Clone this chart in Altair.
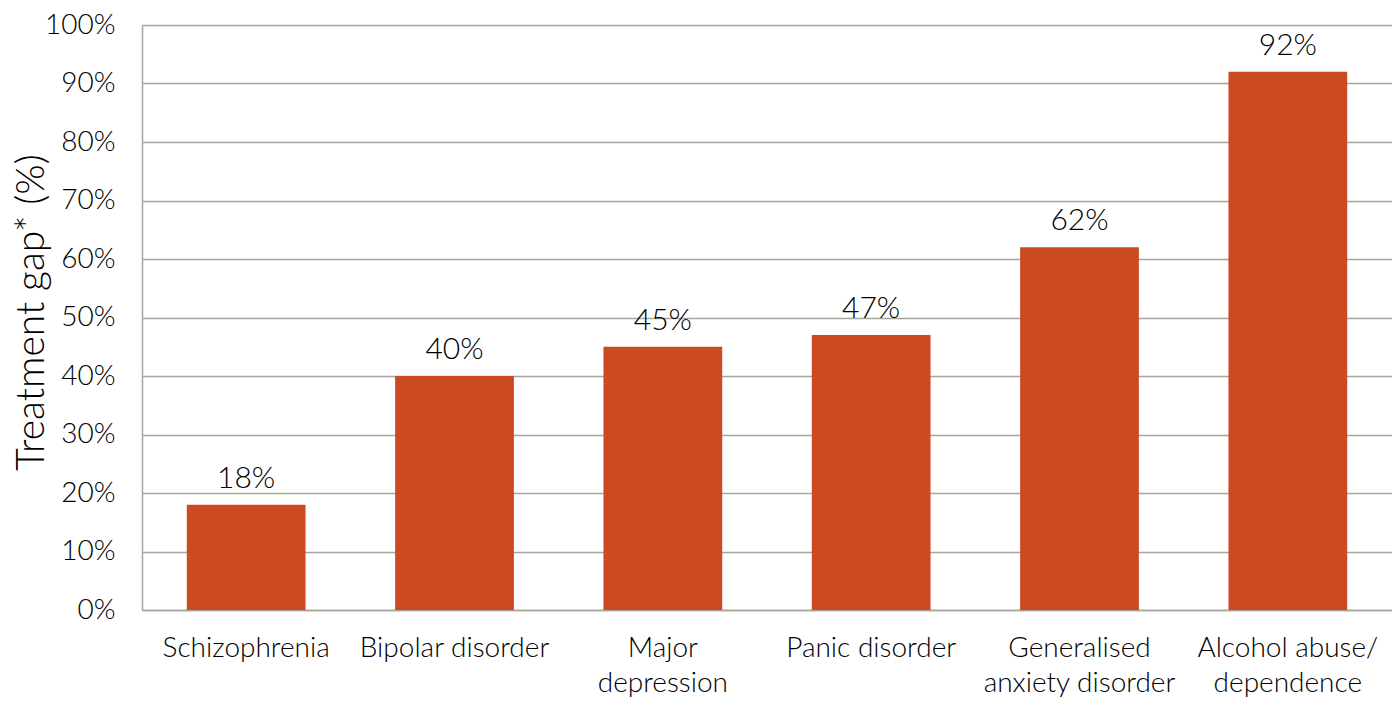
import altair as alt
import pandas as pd

categories = ["Schizophrenia", "Bipolar disorder", "Major|depression", "Panic disorder",
              "Generalised|anxiety disorder", "Alcohol abuse/|dependence"]
values = [0.18, 0.40, 0.45, 0.47, 0.62, 0.92]
labels = ["18%", "40%", "45%", "47%", "62%", "92%"]

df = pd.DataFrame({"cat": categories, "val": values, "lab": labels})

FONT = "Lato"
GRID = "#A7A69D"
TXT = "#000000"

x = alt.X("cat:N", sort=categories, title=None,
          scale=alt.Scale(paddingInner=0.43, paddingOuter=0.215),
          axis=alt.Axis(labelAngle=0, labelExpr="split(datum.label, '|')",
                        labelFont=FONT, labelFontSize=28, labelFontWeight=300,
                        labelColor=TXT, labelLimit=0,
                        labelPadding=24, labelLineHeight=35, ticks=False,
                        domainColor=GRID, domainWidth=1.5, labelBaseline="top"))
y = alt.Y("val:Q", title="Treatment gap* (%)",
          scale=alt.Scale(domain=[0, 1], nice=False),
          axis=alt.Axis(format=".0%", values=[i / 10 for i in range(11)],
                        labelFont=FONT, labelFontSize=28, labelFontWeight=300,
                        labelColor=TXT, labelPadding=27, ticks=False,
                        domainColor=GRID, domainWidth=1.5,
                        gridColor=GRID, gridWidth=1.5,
                        titleFont=FONT, titleFontSize=39, titleFontWeight=300,
                        titleColor=TXT, titleAngle=270, titleX=-99, titleY=287,
                        titleAlign="center", titleBaseline="alphabetic"))

bars = alt.Chart(df).mark_bar(color="#CC4A21").encode(x=x, y=y)
text = alt.Chart(df).mark_text(font=FONT, fontSize=30, fontWeight=300, color=TXT,
                               baseline="bottom", dy=-11).encode(
    x=alt.X("cat:N", sort=categories), y="val:Q", text="lab:N")

chart = (bars + text).properties(
    width=1250, height=585,
    autosize=alt.AutoSizeParams(type="none"),
    padding={"left": 142, "top": 25, "right": 0, "bottom": 91},
).configure_view(stroke=None)

chart.save("out.html", embed_options={"renderer": "svg", "actions": False})
